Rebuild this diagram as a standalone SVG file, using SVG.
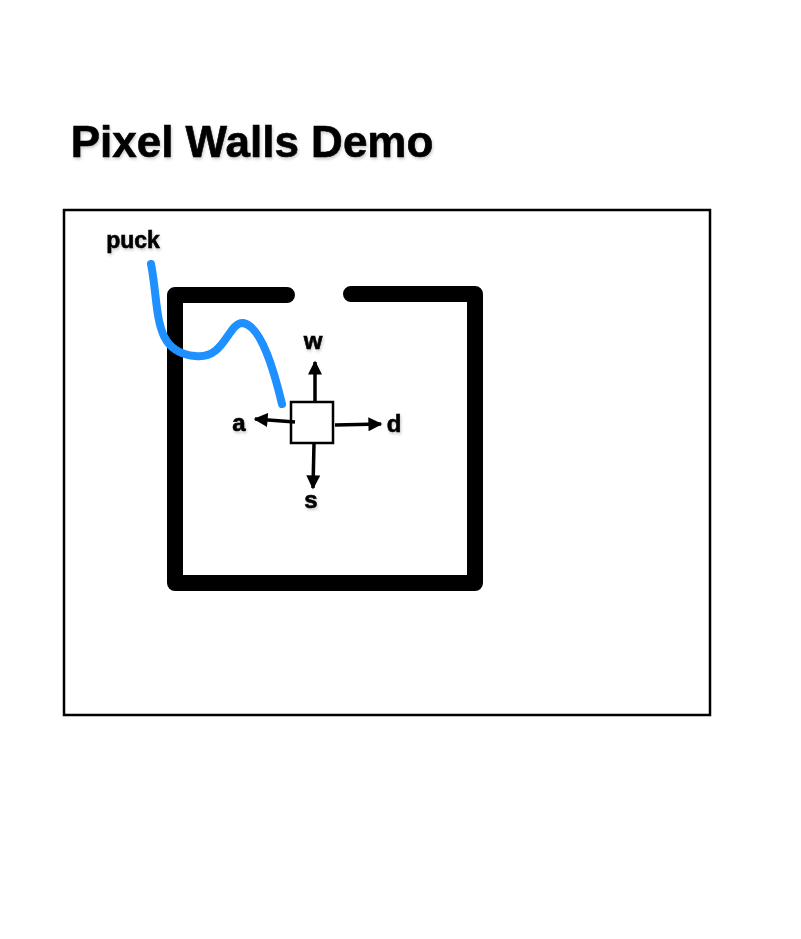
<svg xmlns="http://www.w3.org/2000/svg" width="801" height="939" viewBox="0 0 801 939">
<style>
.lbl{font-family:"Liberation Sans",Arial,sans-serif;font-weight:bold;fill:#000;stroke:#000;stroke-width:0.6;text-anchor:middle;filter:url(#sh)}
.arr{stroke:#000;stroke-width:3.5;fill:none;marker-end:url(#ah)}
</style>
<defs>
<filter id="sh" x="-20%" y="-30%" width="140%" height="170%">
<feDropShadow dx="1" dy="2" stdDeviation="1.5" flood-color="#000" flood-opacity="0.2"/>
</filter>
<marker id="ah" viewBox="0 0 10 10" refX="9" refY="5" markerWidth="4.2" markerHeight="4" markerUnits="strokeWidth" orient="auto">
<path d="M0,0 L10,5 L0,10 z" fill="#000"/>
</marker>
</defs>
<rect width="801" height="939" fill="#fff"/>
<text class="lbl" x="252" y="157" font-size="44">Pixel Walls Demo</text>
<g id="frame"><rect x="64" y="210" width="646" height="505" fill="none" stroke="#000" stroke-width="2.5"/></g>
<g id="walls"><path d="M287,295 H175 V583 H475 V294 H351" fill="none" stroke="#000" stroke-width="16" stroke-linecap="round" stroke-linejoin="round"/></g>
<g id="puck">
<path d="M151,264 C160,310 152,352 195,356 C225,360 228,322 243,323 C262,326 275,375 282,404" fill="none" stroke="#1E90FF" stroke-width="8" stroke-linecap="round"/>
<text class="lbl" x="133" y="248" font-size="23">puck</text>
</g>
<g id="player"><rect x="291" y="402" width="42" height="41" fill="#fff" stroke="#000" stroke-width="2.5"/></g>
<g id="connectors">
<line class="arr" x1="315" y1="402" x2="315" y2="362"/>
<line class="arr" x1="295" y1="422" x2="255" y2="419"/>
<line class="arr" x1="335" y1="425" x2="381" y2="424"/>
<line class="arr" x1="314" y1="443" x2="313" y2="488"/>
</g>
<g id="labels">
<text class="lbl" x="313" y="349" font-size="24">w</text>
<text class="lbl" x="239" y="431" font-size="24">a</text>
<text class="lbl" x="394" y="432" font-size="24">d</text>
<text class="lbl" x="311" y="508" font-size="24">s</text>
</g>
</svg>
